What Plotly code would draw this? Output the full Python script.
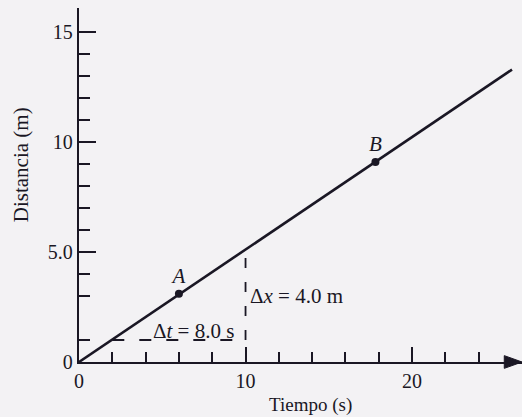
import plotly.graph_objects as go

# Position-time data (uniform motion)
time_s = [0, 26.0]
dist_m = [0, 13.3]

# Labelled points on the line
point_names = ["A", "B"]
point_t = [6.0, 17.8]
point_x = [3.1, 9.1]

# Interval triangle used to read the slope
dt_t = [2.0, 10.0]
dt_x = [1.0, 1.0]
dx_t = [10.0, 10.0]
dx_x = [1.0, 5.0]

# Axis ticks
x_major = [0, 10, 20]
x_major_text = ["0", "10", "20"]
x_minor = [2, 4, 6, 8, 12, 14, 16, 18, 22, 24]
y_major = [0, 5, 10, 15]
y_major_text = ["0", "5.0", "10", "15"]
y_minor = [1, 3, 4, 6, 7, 8, 9, 11, 12, 13, 14]

INK = "#1a1724"
BG = "#f3f2f4"
SERIF = "Liberation Serif, Times New Roman, serif"

fig = go.Figure()

fig.add_trace(go.Scatter(x=dt_t, y=dt_x, mode="lines",
                         line=dict(color=INK, width=1.8, dash="12px,15px"),
                         hoverinfo="skip"))
fig.add_trace(go.Scatter(x=dx_t, y=dx_x, mode="lines",
                         line=dict(color=INK, width=1.8, dash="10px,14px"),
                         hoverinfo="skip"))
fig.add_trace(go.Scatter(x=time_s, y=dist_m, mode="lines",
                         line=dict(color=INK, width=2.6)))
fig.add_trace(go.Scatter(x=point_t, y=point_x, mode="markers+text",
                         marker=dict(color=INK, size=8),
                         text=[f"<i>{n}</i>" for n in point_names],
                         textposition="top center",
                         textfont=dict(family=SERIF, size=21, color=INK)))

fig.add_annotation(x=(dt_t[0] + dt_t[1]) / 2 + 0.9, y=dt_x[0], xref="x", yref="y",
                   text="Δ<i>t</i> = 8.0 s", showarrow=False, yanchor="bottom",
                   yshift=-5, font=dict(family=SERIF, size=21, color=INK))
fig.add_annotation(x=dx_t[0], y=(dx_x[0] + dx_x[1]) / 2, xref="x", yref="y",
                   text="Δ<i>x</i> = 4.0 m", showarrow=False, xanchor="left",
                   xshift=2, font=dict(family=SERIF, size=21, color=INK))

# Axis titles
fig.add_annotation(x=0.5, y=0, xref="paper", yref="paper", text="Tiempo (s)",
                   showarrow=False, yanchor="middle", xshift=10, yshift=-43,
                   font=dict(family=SERIF, size=19, color=INK))
fig.add_annotation(x=0, y=8.95, xref="paper", yref="y", text="Distancia (m)",
                   showarrow=False, textangle=-90, xanchor="center", xshift=-58,
                   font=dict(family=SERIF, size=21, color=INK))

# Arrow head at the end of the time axis
fig.add_shape(type="path", xref="paper", yref="paper",
              path="M 0.96 0.018 L 1 0 L 0.96 -0.018 Z",
              fillcolor=INK, line=dict(color=INK, width=1), layer="above")

axis_common = dict(showgrid=False, zeroline=False, showline=True,
                   linecolor=INK, linewidth=2.4, ticks="inside",
                   tickcolor=INK, tickwidth=2.2,
                   tickfont=dict(family=SERIF, size=20, color=INK))

fig.update_layout(
    width=522, height=417,
    margin=dict(l=79, r=0, t=8, b=55),
    paper_bgcolor=BG, plot_bgcolor=BG,
    showlegend=False,
    xaxis=dict(range=[0, 26.6], tickmode="array", tickvals=x_major,
               ticktext=x_major_text, ticklen=15,
               minor=dict(tickmode="array", tickvals=x_minor, ticklen=10,
                          ticks="inside", tickcolor=INK, tickwidth=2),
               **axis_common),
    yaxis=dict(range=[0, 16.1], tickmode="array", tickvals=y_major,
               ticktext=y_major_text, ticklen=17,
               minor=dict(tickmode="array", tickvals=y_minor, ticklen=11,
                          ticks="inside", tickcolor=INK, tickwidth=2),
               **axis_common),
)

fig.write_html("out.html")
